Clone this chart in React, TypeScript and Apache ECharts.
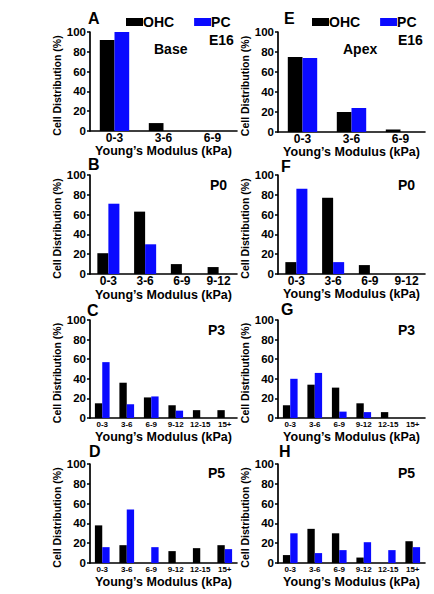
import React, { useEffect, useRef } from "react";
import * as echarts from "echarts";

const cats3 = ["0-3", "3-6", "6-9"];
const cats4 = ["0-3", "3-6", "6-9", "9-12"];
const cats6 = ["0-3", "3-6", "6-9", "9-12", "12-15", "15+"];

const ohcA = [92, 8, 0];
const pcA = [100, 0, 0];
const ohcE = [75, 20, 2.5];
const pcE = [74, 24, 0];
const ohcB = [21, 63, 10, 7];
const pcB = [71, 30, 0, 0];
const ohcF = [12, 77, 9, 0];
const pcF = [86, 12, 0, 0];
const ohcC = [15, 36, 21, 13, 8, 8];
const pcC = [57, 14, 22, 7.5, 0, 0];
const ohcG = [13, 34, 31, 15, 6, 0];
const pcG = [40, 46, 6.5, 6, 0, 0];
const ohcD = [38, 18, 0, 12, 15, 18];
const pcD = [16, 54, 16, 0, 0, 14];
const ohcH = [8, 34.5, 30, 5.5, 0, 22];
const pcH = [30, 10, 13, 21, 13, 16];

const yTicks = [0, 20, 40, 60, 80, 100];
const seriesNames = ["OHC", "PC"];
const panelLetters = ["A", "E", "B", "F", "C", "G", "D", "H"];
const stageLabels = ["E16", "E16", "P0", "P0", "P3", "P3", "P5", "P5"];
const regionLabels = ["Base", "Apex"];

const FONT = "'Liberation Sans', Arial, Helvetica, sans-serif";

export default function App() {
  const ref = useRef<HTMLDivElement>(null);

  useEffect(() => {
    if (!ref.current) return;
    const chart = echarts.init(ref.current, null, { renderer: "svg" });

    const panels = [
      { cats: cats3, ohc: ohcA, pc: pcA, left: 90, top: 32, height: 99, small: false, nameGap: 9 },
      { cats: cats3, ohc: ohcE, pc: pcE, left: 278, top: 32, height: 100, small: false, nameGap: 7 },
      { cats: cats4, ohc: ohcB, pc: pcB, left: 90, top: 175, height: 99, small: false, nameGap: 14 },
      { cats: cats4, ohc: ohcF, pc: pcF, left: 278, top: 175, height: 99, small: false, nameGap: 12 },
      { cats: cats6, ohc: ohcC, pc: pcC, left: 90, top: 320, height: 98, small: true, nameGap: 12 },
      { cats: cats6, ohc: ohcG, pc: pcG, left: 278, top: 320, height: 98, small: true, nameGap: 12 },
      { cats: cats6, ohc: ohcD, pc: pcD, left: 90, top: 464, height: 99, small: true, nameGap: 12 },
      { cats: cats6, ohc: ohcH, pc: pcH, left: 278, top: 464, height: 99, small: true, nameGap: 12 },
    ];

    const grid = panels.map((p) => ({
      left: p.left,
      top: p.top,
      width: 147,
      height: p.height,
      containLabel: false,
    }));

    const xAxis = panels.map((p, i) => ({
      type: "category",
      gridIndex: i,
      data: p.cats,
      name: "Young\u2019s Modulus (kPa)",
      nameLocation: "middle",
      nameGap: p.nameGap,
      nameTextStyle: {
        fontFamily: FONT,
        fontWeight: "bold",
        fontSize: 12.5,
        lineHeight: 13,
        color: "#000",
        verticalAlign: "top",
      },
      axisLine: { show: true, onZero: false, lineStyle: { color: "#000", width: 1.6 } },
      axisTick: { show: false },
      axisLabel: {
        interval: 0,
        margin: p.small ? 2 : 1,
        fontFamily: FONT,
        fontWeight: "bold",
        fontSize: p.small ? 8 : 12,
        color: "#000",
      },
      splitLine: { show: false },
    }));

    const yAxis = panels.map((p, i) => ({
      type: "value",
      gridIndex: i,
      min: 0,
      max: 100,
      interval: 20,
      name: "Cell Distribution (%)",
      nameLocation: "middle",
      nameGap: 20,
      nameRotate: 90,
      nameTextStyle: { fontFamily: FONT, fontWeight: "bold", fontSize: 10.5, color: "#000", padding: [0, 8, 0, 0] },
      axisLine: { show: true, lineStyle: { color: "#000", width: 1.7 } },
      axisTick: { show: true, length: 3, inside: false, lineStyle: { color: "#000", width: 1.5 } },
      axisLabel: {
        margin: 4,
        fontFamily: FONT,
        fontWeight: "bold",
        fontSize: 11.5,
        color: "#000",
        formatter: (v: number) => (yTicks.includes(v) ? String(v) : ""),
      },
      splitLine: { show: false },
    }));

    const series: any[] = [];
    panels.forEach((p, i) => {
      series.push({
        type: "bar",
        name: seriesNames[0],
        xAxisIndex: i,
        yAxisIndex: i,
        data: p.ohc,
        barGap: "0%",
        barCategoryGap: "40%",
        itemStyle: { color: "#000000" },
      });
      series.push({
        type: "bar",
        name: seriesNames[1],
        xAxisIndex: i,
        yAxisIndex: i,
        data: p.pc,
        barGap: "0%",
        barCategoryGap: "40%",
        itemStyle: { color: "#0a0aff" },
      });
    });

    const legendBase = {
      orient: "horizontal",
      itemWidth: 17,
      itemHeight: 8,
      itemGap: 20,
      padding: 0,
      icon: "rect",
      selectedMode: false,
      data: seriesNames,
      textStyle: { fontFamily: FONT, fontWeight: "bold", fontSize: 14, color: "#000", padding: [0, 0, 0, -5] },
    };
    const legend = [
      { ...legendBase, left: 126, top: 15 },
      { ...legendBase, left: 312, top: 15 },
    ];

    const letterPos = [
      [88, 18], [284, 18], [88, 164], [281, 166], [87, 310], [281, 309], [89, 451], [279, 451],
    ];
    const stagePos = [
      [209, 40], [398, 40], [210, 185], [398, 185], [208, 330], [398, 330], [208, 473], [398, 473],
    ];
    const textStyleBase = { fontFamily: FONT, fontWeight: "bold", fill: "#000" };
    const graphic: any[] = [];
    panelLetters.forEach((l, i) => {
      graphic.push({
        type: "text",
        x: letterPos[i][0],
        y: letterPos[i][1],
        style: {
          ...textStyleBase,
          text: l,
          fontSize: 16,
          lineHeight: 12,
          textVerticalAlign: "middle",
          textAlign: "left",
        },
      });
    });
    stageLabels.forEach((s, i) => {
      graphic.push({
        type: "text",
        x: stagePos[i][0],
        y: stagePos[i][1],
        style: { ...textStyleBase, text: s, fontSize: 14, textVerticalAlign: "middle", textAlign: "left" },
      });
    });
    graphic.push({
      type: "text",
      x: 154,
      y: 49,
      style: { ...textStyleBase, text: regionLabels[0], fontSize: 14, textVerticalAlign: "middle", textAlign: "left" },
    });
    graphic.push({
      type: "text",
      x: 343,
      y: 49,
      style: { ...textStyleBase, text: regionLabels[1], fontSize: 14, textVerticalAlign: "middle", textAlign: "left" },
    });

    chart.setOption({
      animation: false,
      backgroundColor: "#ffffff",
      grid,
      xAxis,
      yAxis,
      series,
      legend,
      graphic,
    });

    return () => chart.dispose();
  }, []);

  return (
    <div
      ref={ref}
      style={{ position: "fixed", left: 0, top: 0, width: 434, height: 594, background: "#fff" }}
    />
  );
}
